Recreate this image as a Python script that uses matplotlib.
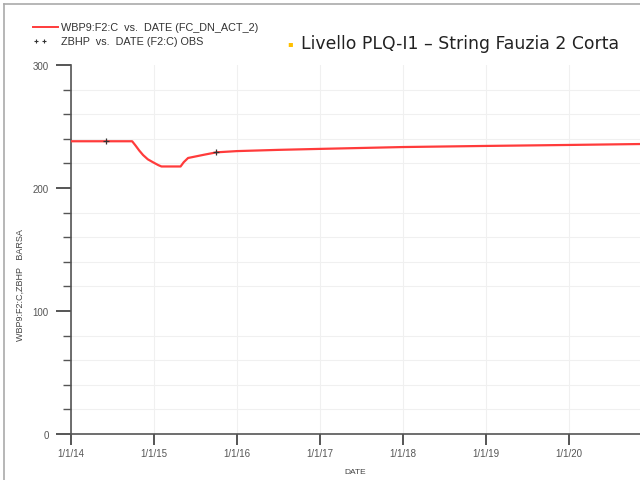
import numpy as np
import pandas as pd
import matplotlib
matplotlib.use("Agg")
import matplotlib.pyplot as plt
from matplotlib.lines import Line2D

# simulated well pressure (BARSA)
sim_dates = pd.to_datetime([
    "2014-01-01", "2014-09-27", "2014-10-12", "2014-10-28", "2014-11-14",
    "2014-12-05", "2014-12-28", "2015-01-20", "2015-02-03", "2015-04-28",
    "2015-05-12", "2015-05-31", "2015-08-08", "2015-10-03", "2016-01-01",
    "2016-07-01", "2017-01-01", "2018-01-01", "2019-01-01", "2020-01-01",
    "2020-12-01",
])
sim_values = [238, 238, 234.5, 230.5, 226.8, 223.3, 220.9, 218.6, 217.5, 217.5,
              221, 224.4, 227, 229, 230, 231, 231.8, 233.3, 234.2, 235, 235.8]

# observed points
obs_dates = pd.to_datetime(["2014-06-03", "2015-10-03"])
obs_values = [238, 229.5]

tick_dates = pd.to_datetime(["2014-01-01", "2015-01-01", "2016-01-01", "2017-01-01",
                             "2018-01-01", "2019-01-01", "2020-01-01"])
tick_labels = ["1/1/14", "1/1/15", "1/1/16", "1/1/17", "1/1/18", "1/1/19", "1/1/20"]

small_font = "Liberation Sans"

fig = plt.figure(figsize=(6.4, 4.81), dpi=100)
ax = fig.add_axes([71 / 640, 1 - 435 / 481, 1 - 71 / 640, (435 - 66) / 481])

ax.plot(sim_dates, sim_values, color="#ff3b3b", linewidth=1.6, zorder=3)
ax.plot(obs_dates, obs_values, linestyle="none", marker="+", markersize=5,
        color="#333333", markeredgewidth=0.9, zorder=4)

ax.set_xlim(pd.Timestamp("2014-01-01"), pd.Timestamp("2020-11-08"))
ax.set_ylim(0, 300)

ax.set_xticks(tick_dates)
ax.set_xticklabels(tick_labels, fontfamily=small_font)
ax.set_yticks([0, 100, 200, 300])
ax.set_yticklabels(["0", "100", "200", "300"], fontfamily=small_font)
ax.set_yticks(np.arange(0, 301, 20), minor=True)

grey = "#555555"
for side in ["top", "right"]:
    ax.spines[side].set_visible(False)
for side in ["left", "bottom"]:
    ax.spines[side].set_color(grey)
    ax.spines[side].set_linewidth(1.2)

ax.tick_params(axis="both", which="major", direction="out", length=11, width=1.4,
               color=grey, labelsize=7, labelcolor="#555555", pad=2)
ax.tick_params(axis="y", which="minor", direction="out", length=6, width=1.0, color=grey)
ax.tick_params(axis="y", which="major", pad=5)
ax.tick_params(axis="x", which="major", length=8, pad=2)

ax.grid(True, which="major", axis="x", color="#f0f0f0", linewidth=0.8)
ax.grid(True, which="minor", axis="y", color="#f0f0f0", linewidth=0.8)
ax.set_axisbelow(True)

ax.set_xlabel("DATE", fontsize=6, fontfamily=small_font, color="#444444", labelpad=7)
fig.text(20 / 640, 1 - 285 / 481, "WBP9:F2:C,ZBHP   BARSA", rotation=90,
         fontsize=6.5, fontfamily=small_font, color="#444444", ha="center", va="center")

# legend drawn by hand at the top left
fig.add_artist(Line2D([33 / 640, 58 / 640], [1 - 28 / 481, 1 - 28 / 481],
                      color="#ff3b3b", linewidth=1.4))
fig.text(61 / 640, 1 - 28 / 481, "WBP9:F2:C  vs.  DATE (FC_DN_ACT_2)",
         fontsize=7.8, fontfamily=small_font, color="#333333", va="center")
fig.add_artist(Line2D([36 / 640, 44 / 640], [1 - 42 / 481, 1 - 42 / 481],
                      linestyle="none", marker="+", markersize=3,
                      color="#333333", markeredgewidth=0.8))
fig.text(61 / 640, 1 - 42 / 481, "ZBHP  vs.  DATE (F2:C) OBS",
         fontsize=7.8, fontfamily=small_font, color="#333333", va="center")

# title with a yellow bullet
fig.text(290 / 640, 1 - 44 / 481, "\u25aa", fontsize=6, color="#ffc000",
         ha="center", va="center")
fig.text(301 / 640, 1 - 44 / 481, "Livello PLQ-I1 \u2013 String Fauzia 2 Corta",
         fontsize=12.4, color="#222222", va="center")

# outer frame
fig.add_artist(Line2D([4 / 640, 4 / 640], [0, 1 - 5 / 481], color="#aaaaaa", linewidth=1.2))
fig.add_artist(Line2D([4 / 640, 1], [1 - 5 / 481, 1 - 5 / 481], color="#aaaaaa", linewidth=1.2))

fig.savefig("out.png", dpi=100)
plt.close(fig)
